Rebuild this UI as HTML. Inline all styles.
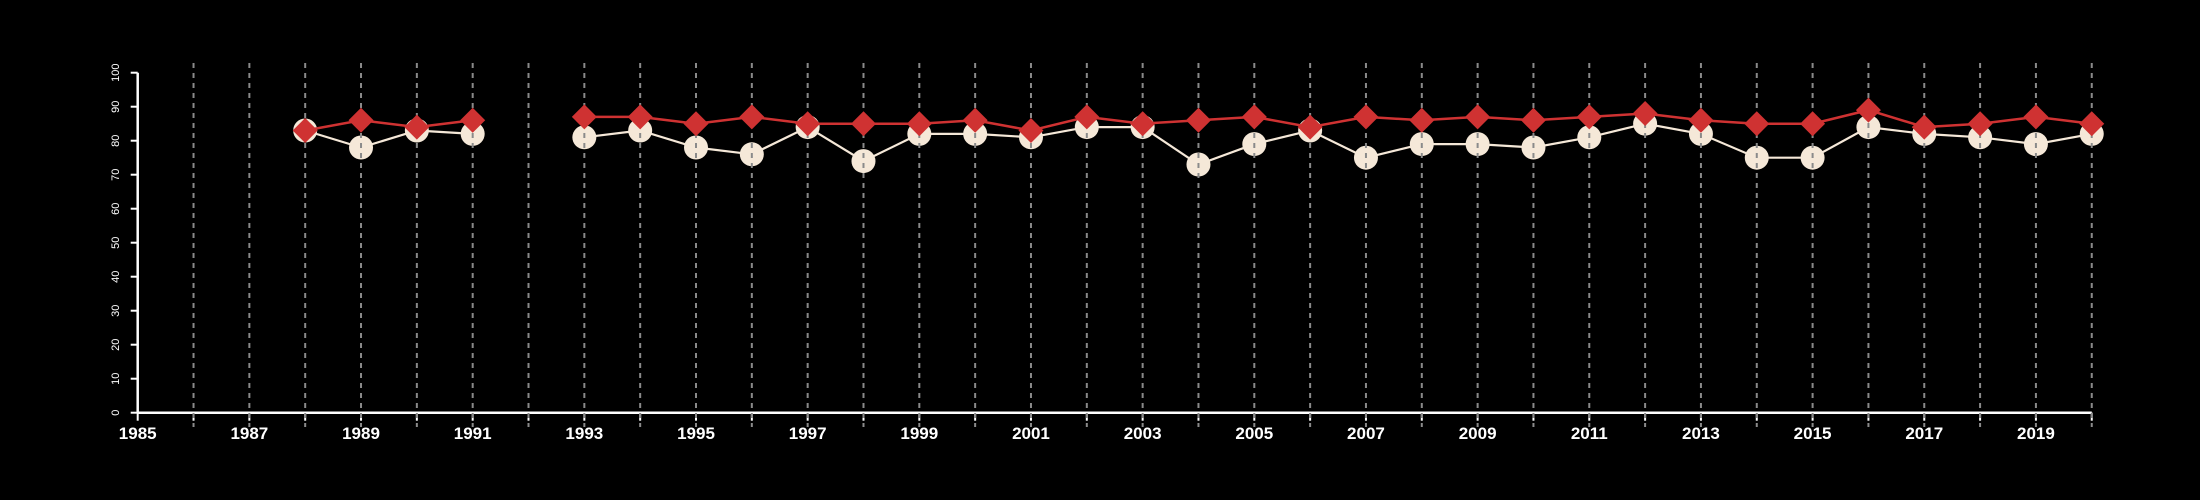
<!DOCTYPE html>
<html><head><meta charset="utf-8"><style>
html,body{margin:0;padding:0;background:#000;width:2200px;height:500px;overflow:hidden}
svg text{font-family:"Liberation Sans",sans-serif;fill:#fff}
</style></head><body>
<svg id="chart" width="2200" height="500" xmlns="http://www.w3.org/2000/svg"></svg>
<script>
const years = [1988,1989,1990,1991,1992,1993,1994,1995,1996,1997,1998,1999,2000,2001,2002,2003,2004,2005,2006,2007,2008,2009,2010,2011,2012,2013,2014,2015,2016,2017,2018,2019,2020];
const redValues = [83,86,84,86,null,87,87,85,87,85,85,85,86,83,87,85,86,87,84,87,86,87,86,87,88,86,85,85,89,84,85,87,85];
const whiteValues = [83,78,83,82,null,81,83,78,76,84,74,82,82,81,84,84,73,79,83,75,79,79,78,81,85,82,75,75,84,82,81,79,82];
const yTicks = [0,10,20,30,40,50,60,70,80,90,100];
const xLabels = [1985,1987,1989,1991,1993,1995,1997,1999,2001,2003,2005,2007,2009,2011,2013,2015,2017,2019];

const svg = document.getElementById('chart');
const NS = 'http://www.w3.org/2000/svg';
const x0 = 137.7, xStep = 55.83, y0 = 412.7, yScale = 3.4;
const X = yr => x0 + (yr - 1985) * xStep;
const Y = v => y0 - v * yScale;
function mk(tag, attrs, parent){const e=document.createElementNS(NS,tag);for(const k in attrs)e.setAttribute(k,attrs[k]);(parent||svg).appendChild(e);return e;}

// axes
const yAxis = mk('line',{x1:x0,y1:Y(100),x2:x0,y2:y0,stroke:'#fff','stroke-width':2.5});


const xAxis = mk('line',{x1:x0,y1:y0,x2:X(2020),y2:y0,stroke:'#fff','stroke-width':2.5});



yTicks.forEach(t=>{
  const tk = mk('line',{x1:x0-7,y1:Y(t),x2:x0,y2:Y(t),stroke:'#fff','stroke-width':2});
  
  
  const tx = mk('text',{x:0,y:0,transform:`translate(119,${Y(t)}) rotate(-90)`,'text-anchor':'middle','font-size':11});
  tx.textContent = t;
  
  
});
for(let yr=1985; yr<=2020; yr++){
  const tk = mk('line',{x1:X(yr),y1:y0,x2:X(yr),y2:y0+8,stroke:'#fff','stroke-width':2});
  
  
}
xLabels.forEach(yr=>{
  const tx = mk('text',{x:X(yr),y:439,'text-anchor':'middle','font-size':17,'font-weight':'bold'});
  tx.textContent = yr;
  
  
});

function segs(vals){const out=[];let cur=[];vals.forEach((v,i)=>{if(v==null){if(cur.length)out.push(cur);cur=[];}else cur.push([X(years[i]),Y(v)]);});if(cur.length)out.push(cur);return out;}

// white series
segs(whiteValues).forEach(s=>{
  const p = mk('polyline',{points:s.map(q=>q.join(',')).join(' '),fill:'none',stroke:'#f5e8d8','stroke-width':2.2});
  
  
});
whiteValues.forEach((v,i)=>{
  if(v==null)return;
  const c = mk('circle',{cx:X(years[i]),cy:Y(v),r:12,fill:'#f5e8d8'});
  
  
});
// grid
for(let yr=1986; yr<=2020; yr++){
  const g = mk('line',{x1:X(yr),y1:63,x2:X(yr),y2:427,stroke:'#8a8a8a','stroke-width':2,'stroke-dasharray':'5,5'});
  
  
}
// red series
segs(redValues).forEach(s=>{
  const p = mk('polyline',{points:s.map(q=>q.join(',')).join(' '),fill:'none',stroke:'#cf3232','stroke-width':2.5});
  
  
});
redValues.forEach((v,i)=>{
  if(v==null)return;
  const cx=X(years[i]), cy=Y(v), d=12.5;
  const p = mk('polygon',{points:`${cx},${cy-d} ${cx+d},${cy} ${cx},${cy+d} ${cx-d},${cy}`,fill:'#cf3232'});
  
  
});
</script>
</body></html>
